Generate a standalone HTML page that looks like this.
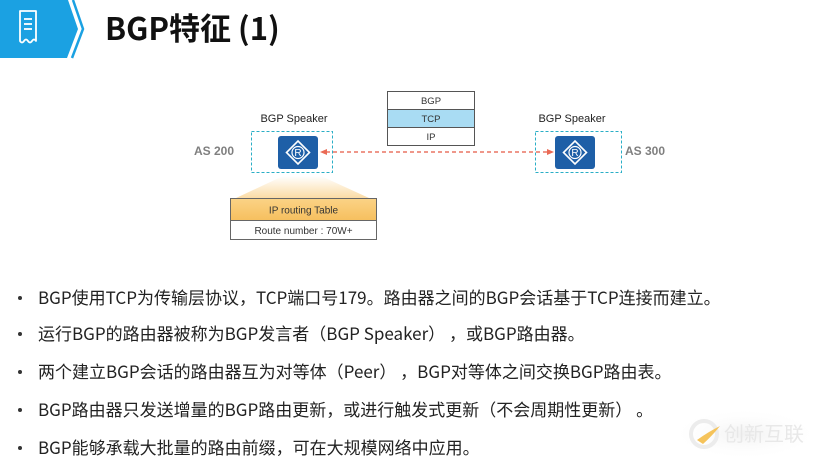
<!DOCTYPE html>
<html>
<head>
<meta charset="utf-8">
<style>
  html,body{margin:0;padding:0;background:#fff;}
  body{width:819px;height:463px;position:relative;overflow:hidden;}
  .t{position:absolute;white-space:nowrap;}
  .title{left:105px;top:6px;font-family:"Noto Sans CJK SC","Liberation Sans",sans-serif;font-weight:bold;font-size:31px;line-height:42px;color:#111;}
  .b{position:absolute;left:0;font-family:"Noto Sans CJK SC","Liberation Sans",sans-serif;font-size:17px;line-height:24px;color:#222;white-space:nowrap;text-spacing-trim:space-all;}
  .b .dot{position:absolute;left:18px;top:11px;width:4px;height:4px;border-radius:50%;background:#333;}
  .b .tx{position:absolute;left:38px;top:0;}
</style>
</head>
<body>
<svg width="819" height="463" style="position:absolute;left:0;top:0" xmlns="http://www.w3.org/2000/svg">
  <defs>
    <linearGradient id="fan" x1="0" y1="0" x2="0" y2="1">
      <stop offset="0" stop-color="#ffffff"/>
      <stop offset="1" stop-color="#fbdca6"/>
    </linearGradient>
    <linearGradient id="hdr" x1="0" y1="0" x2="0" y2="1">
      <stop offset="0" stop-color="#fbd386"/>
      <stop offset="1" stop-color="#f6bf5e"/>
    </linearGradient>
    <radialGradient id="wm" cx="0.5" cy="0.5" r="0.5">
      <stop offset="0" stop-color="#f1f1f1"/>
      <stop offset="1" stop-color="#ffffff" stop-opacity="0"/>
    </radialGradient>
  </defs>

  <!-- header -->
  <polygon points="0,0 68,0 78,29 67,58 0,58" fill="#1ba1e2"/>
  <polyline points="73,0 83,29 72,58" fill="none" stroke="#1ba1e2" stroke-width="2.5"/>
  <!-- receipt icon -->
  <path d="M20,11 H36 V41 Q34,38 32,41 Q30,44 28,41 Q26,38 24,41 Q22,44 20,41 Z" fill="none" stroke="#fff" stroke-width="1.8" stroke-linejoin="round"/>
  <line x1="24" y1="19" x2="32" y2="19" stroke="#fff" stroke-width="1.8"/>
  <line x1="24" y1="24" x2="32" y2="24" stroke="#fff" stroke-width="1.8"/>
  <line x1="24" y1="29" x2="32" y2="29" stroke="#fff" stroke-width="1.8"/>

  <!-- protocol stack -->
  <rect x="387.5" y="91.5" width="87" height="18" fill="#fff" stroke="#555" stroke-width="1"/>
  <rect x="387.5" y="109.5" width="87" height="18" fill="#a9dcf3" stroke="#555" stroke-width="1"/>
  <rect x="387.5" y="127.5" width="87" height="18" fill="#fff" stroke="#555" stroke-width="1"/>
  <text x="431" y="104" font-family="Liberation Sans, sans-serif" font-size="9.5" fill="#333" text-anchor="middle">BGP</text>
  <text x="431" y="122" font-family="Liberation Sans, sans-serif" font-size="9.5" fill="#333" text-anchor="middle">TCP</text>
  <text x="431" y="140" font-family="Liberation Sans, sans-serif" font-size="9.5" fill="#333" text-anchor="middle">IP</text>

  <!-- labels -->
  <text x="294" y="122" font-family="Liberation Sans, sans-serif" font-size="11" fill="#222" text-anchor="middle">BGP Speaker</text>
  <text x="572" y="122" font-family="Liberation Sans, sans-serif" font-size="11" fill="#222" text-anchor="middle">BGP Speaker</text>
  <text x="194" y="155" font-family="Liberation Sans, sans-serif" font-size="12" font-weight="bold" fill="#7f7f7f">AS 200</text>
  <text x="625" y="155" font-family="Liberation Sans, sans-serif" font-size="12" font-weight="bold" fill="#7f7f7f">AS 300</text>

  <!-- dashed boxes -->
  <rect x="251.5" y="131.5" width="81" height="41" fill="none" stroke="#2aaec6" stroke-width="1" stroke-dasharray="3,2"/>
  <rect x="535.5" y="131.5" width="86" height="41" fill="none" stroke="#2aaec6" stroke-width="1" stroke-dasharray="3,2"/>

  <!-- routers -->
  <g transform="translate(278,136)">
    <rect x="0" y="0" width="40" height="33" rx="3" fill="#1e5fa7"/>
    <polygon points="20,5 31.5,16.5 20,28 8.5,16.5" fill="none" stroke="#fff" stroke-width="1.6"/>
    <circle cx="20" cy="16.5" r="6" fill="none" stroke="#fff" stroke-width="1.2"/>
    <text x="20" y="20.2" font-family="Liberation Sans, sans-serif" font-size="10" fill="#fff" text-anchor="middle">R</text>
  </g>
  <g transform="translate(555,136)">
    <rect x="0" y="0" width="40" height="33" rx="3" fill="#1e5fa7"/>
    <polygon points="20,5 31.5,16.5 20,28 8.5,16.5" fill="none" stroke="#fff" stroke-width="1.6"/>
    <circle cx="20" cy="16.5" r="6" fill="none" stroke="#fff" stroke-width="1.2"/>
    <text x="20" y="20.2" font-family="Liberation Sans, sans-serif" font-size="10" fill="#fff" text-anchor="middle">R</text>
  </g>

  <!-- red dashed connector -->
  <line x1="326" y1="152" x2="548" y2="152" stroke="#ea7563" stroke-width="1.5" stroke-dasharray="4,3"/>
  <polygon points="320,152 327,149 327,155" fill="#ea6a55"/>
  <polygon points="554,152 547,149 547,155" fill="#ea6a55"/>

  <!-- gradient fan -->
  <polygon points="283,176 321,176 369,198 236,198" fill="url(#fan)"/>

  <!-- routing table -->
  <rect x="230.5" y="198.5" width="146" height="22" fill="url(#hdr)" stroke="#666" stroke-width="1"/>
  <rect x="230.5" y="220.5" width="146" height="19" fill="#fff" stroke="#666" stroke-width="1"/>
  <text x="303.5" y="213.5" font-family="Liberation Sans, sans-serif" font-size="10" fill="#333" text-anchor="middle">IP routing Table</text>
  <text x="303.5" y="234" font-family="Liberation Sans, sans-serif" font-size="10" fill="#333" text-anchor="middle">Route number : 70W+</text>

  <!-- watermark -->
  <ellipse cx="745" cy="434" rx="75" ry="26" fill="url(#wm)"/>
  <circle cx="704" cy="434" r="13" fill="none" stroke="#ececec" stroke-width="4"/>
  <path d="M697,440 Q708,432 720,426 Q712,436 703,444 Z" fill="#f5c35a"/>
  <text x="724" y="441" font-family="Noto Sans CJK SC, sans-serif" font-size="20" fill="#e8e8e8">创新互联</text>
</svg>

<div class="t title">BGP特征 (1)</div>

<div class="b" style="top:285px"><span class="dot"></span><span class="tx">BGP使用TCP为传输层协议，TCP端口号179。路由器之间的BGP会话基于TCP连接而建立。</span></div>
<div class="b" style="top:321px"><span class="dot"></span><span class="tx">运行BGP的路由器被称为BGP发言者（BGP Speaker） ，或BGP路由器。</span></div>
<div class="b" style="top:359px"><span class="dot"></span><span class="tx">两个建立BGP会话的路由器互为对等体（Peer） ，BGP对等体之间交换BGP路由表。</span></div>
<div class="b" style="top:397px"><span class="dot"></span><span class="tx">BGP路由器只发送增量的BGP路由更新，或进行触发式更新（不会周期性更新） 。</span></div>
<div class="b" style="top:435px"><span class="dot"></span><span class="tx">BGP能够承载大批量的路由前缀，可在大规模网络中应用。</span></div>
</body>
</html>
